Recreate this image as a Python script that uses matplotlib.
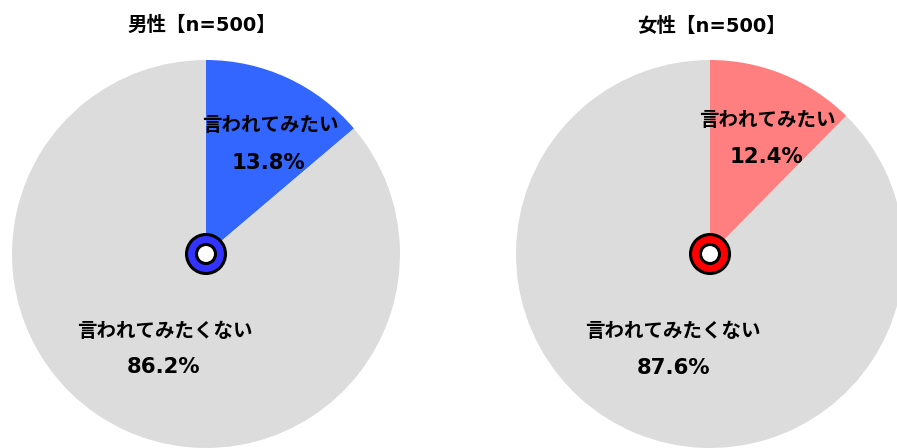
import matplotlib
matplotlib.use("Agg")
import matplotlib.pyplot as plt
from matplotlib.patches import Circle

plt.rcParams['font.family'] = ['DejaVu Sans', 'Noto Sans CJK JP']

titles = ["男性【n=500】", "女性【n=500】"]
categories = ["言われてみたい", "言われてみたくない"]
values_male = [13.8, 86.2]
values_female = [12.4, 87.6]
pct_labels_male = ["13.8%", "86.2%"]
pct_labels_female = ["12.4%", "87.6%"]

W, H = 897, 448
fig = plt.figure(figsize=(W / 100, H / 100), dpi=100)
ax = fig.add_axes([0, 0, 1, 1])

def py(y):
    return H - y

specs = [
    dict(vals=values_male, pcts=pct_labels_male, title=titles[0],
         center=(206, 254), colors=["#3366FF", "#DCDCDC"], ring="#3333FF",
         title_xy=(202, 25), lab=[(270, 125, 268, 163), (165, 331, 164, 367)]),
    dict(vals=values_female, pcts=pct_labels_female, title=titles[1],
         center=(710, 254), colors=["#FF7F80", "#DCDCDC"], ring="#FF0000",
         title_xy=(711, 26), lab=[(767, 120, 766, 157), (673, 331, 673, 368)]),
]

R = 194
for s in specs:
    cx, cy = s["center"]
    ax.pie(s["vals"], colors=s["colors"], startangle=90, counterclock=False,
           center=(cx, py(cy)), radius=R, wedgeprops=dict(linewidth=0))
    ax.add_patch(Circle((cx, py(cy)), 19.5, facecolor=s["ring"], edgecolor="black", lw=2.2, zorder=5))
    ax.add_patch(Circle((cx, py(cy)), 9.5, facecolor="white", edgecolor="black", lw=2.2, zorder=6))
    ax.text(s["title_xy"][0], py(s["title_xy"][1]), s["title"], ha="center", va="center",
            fontsize=14, fontweight="bold", color="black")
    for (lx, ly, vx, vy), cat, pct in zip(s["lab"], categories, s["pcts"]):
        ax.text(lx, py(ly), cat, ha="center", va="center", fontsize=14,
                fontweight="bold", color="black", zorder=7)
        ax.text(vx, py(vy), pct, ha="center", va="center", fontsize=15.3,
                fontweight="bold", color="black", zorder=7)

ax.set_xlim(0, W)
ax.set_ylim(0, H)
ax.set_aspect("auto")
ax.axis("off")
fig.savefig("out.png", dpi=100)
